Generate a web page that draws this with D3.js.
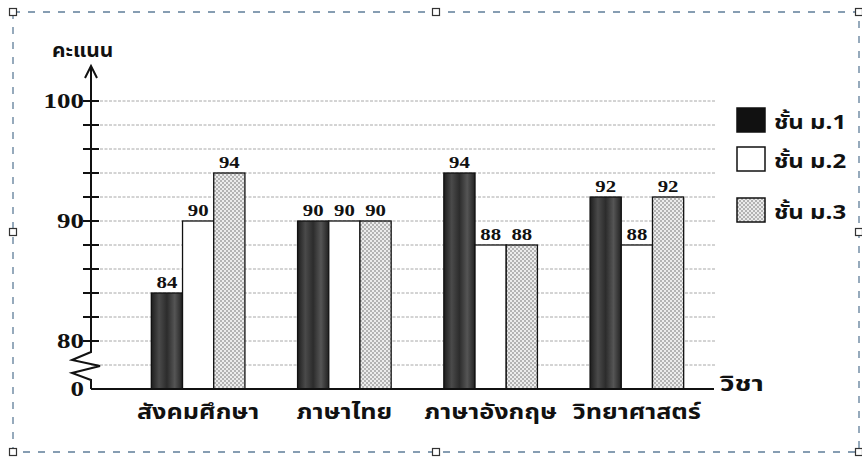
<!DOCTYPE html>
<html><head><meta charset="utf-8">
<script src="https://cdn.jsdelivr.net/npm/d3@7"></script>
<style>html,body{margin:0;padding:0;background:#fff;}svg{display:block;}</style>
</head><body>
<script>
const categories = ["สังคมศึกษา","ภาษาไทย","ภาษาอังกฤษ","วิทยาศาสตร์"];
const seriesNames = ["ชั้น ม.1","ชั้น ม.2","ชั้น ม.3"];
const m1 = [84, 90, 94, 92];
const m2 = [90, 90, 88, 88];
const m3 = [94, 90, 88, 92];
const yTickLabels = [0, 80, 90, 100];
const gridValues = [78,80,82,84,86,88,90,92,94,96,98,100];
const tickMarks = [80,82,84,86,88,90,92,94,96,98,100];
const yTitle = "คะแนน";
const xTitle = "วิชา";

const W = 862, H = 458;
const thai = "'Noto Sans Thai','Loma','Garuda','Norasi','Tlwg Typo','DejaVu Sans',sans-serif";
const serif = "'Liberation Serif','DejaVu Serif',serif";

const svg = d3.select("body").append("svg").attr("width", W).attr("height", H);
const defs = svg.append("defs");
const dp = defs.append("pattern").attr("id","dots").attr("patternUnits","userSpaceOnUse").attr("width",4).attr("height",4);
dp.append("rect").attr("width",4).attr("height",4).attr("fill","#ececec");
dp.append("circle").attr("cx",1).attr("cy",1).attr("r",0.8).attr("fill","#6a6a6a");
dp.append("circle").attr("cx",3).attr("cy",3).attr("r",0.8).attr("fill","#6a6a6a");
const dg = defs.append("linearGradient").attr("id","dark").attr("x1",0).attr("x2",1).attr("y1",0).attr("y2",0);
[[0,"#1e1e1e"],[0.25,"#4a4a4a"],[0.5,"#2c2c2c"],[0.75,"#555"],[1,"#222"]].forEach(s=>dg.append("stop").attr("offset",s[0]).attr("stop-color",s[1]));

svg.append("rect").attr("width",W).attr("height",H).attr("fill","#fff");

const axisX = 91, baseY = 389;
const y = d3.scaleLinear().domain([0, 78, 80, 100]).range([baseY, 365, 341, 101]);
const x0 = d3.scaleBand().domain(categories).range([125, 710]).paddingInner(0.36).paddingOuter(0.18);
const x1 = d3.scaleBand().domain(seriesNames).range([0, x0.bandwidth()]);
const fills = ["url(#dark)", "#fff", "url(#dots)"];
const seriesVals = [m1, m2, m3];

function stretched(sel, sx){ // horizontally stretched text placed via transform
  return sel.attr("transform", d => `translate(${sel.__px(d)},${sel.__py(d)}) scale(${sx},1)`);
}

// grid
svg.append("g").selectAll("line").data(gridValues).join("line")
  .attr("x1", axisX).attr("x2", 715).attr("y1", d=>y(d)).attr("y2", d=>y(d))
  .attr("stroke","#a8a8a8").attr("stroke-width",1).attr("stroke-dasharray","3,1.5");

// bars
const data = [];
categories.forEach((c,i)=>seriesNames.forEach((s,j)=>data.push({c, s, j, v: seriesVals[j][i]})));
svg.append("g").selectAll("rect").data(data).join("rect")
  .attr("x", d=>x0(d.c)+x1(d.s)).attr("width", x1.bandwidth())
  .attr("y", d=>y(d.v)).attr("height", d=>baseY - y(d.v))
  .attr("fill", d=>fills[d.j]).attr("stroke","#111").attr("stroke-width",1.3);

// value labels
svg.append("g").selectAll("text").data(data).join("text")
  .attr("transform", d=>`translate(${x0(d.c)+x1(d.s)+x1.bandwidth()/2},${y(d.v)-5}) scale(1.3,1)`)
  .attr("text-anchor","middle").attr("font-family",serif).attr("font-weight","bold").attr("font-size",16)
  .attr("fill","#111").text(d=>d.v);

// y axis line with break
const path = d3.path();
path.moveTo(axisX, 68); path.lineTo(axisX, 352);
path.lineTo(72, 360); path.lineTo(100, 366); path.lineTo(72, 373); path.lineTo(axisX, 380); path.lineTo(axisX, baseY);
svg.append("path").attr("d", path.toString()).attr("fill","none").attr("stroke","#111").attr("stroke-width",2);
svg.append("path").attr("d", `M${axisX-6},${78} L${axisX},${66} L${axisX+6},${78}`).attr("fill","none").attr("stroke","#111").attr("stroke-width",2);
svg.append("line").attr("x1",axisX).attr("x2",714).attr("y1",baseY).attr("y2",baseY).attr("stroke","#111").attr("stroke-width",2);
svg.append("g").selectAll("line").data(tickMarks).join("line")
  .attr("x1",axisX-8).attr("x2",axisX+8).attr("y1",d=>y(d)).attr("y2",d=>y(d)).attr("stroke","#111").attr("stroke-width",2);
svg.append("g").selectAll("text").data(yTickLabels).join("text")
  .attr("transform", d=>`translate(${axisX-7},${y(d)+7}) scale(1.35,1)`).attr("text-anchor","end")
  .attr("font-family",serif).attr("font-weight","bold").attr("font-size",20).attr("fill","#111").text(d=>d);

// axis titles
svg.append("text").attr("transform","translate(52,57) scale(1.1,1)").attr("font-family",thai).attr("font-weight","bold").attr("font-size",19).attr("fill","#111").text(yTitle);
svg.append("text").attr("transform","translate(720,391) scale(1.35,1)").attr("font-family",thai).attr("font-weight","bold").attr("font-size",21).attr("fill","#111").text(xTitle);

// category labels
svg.append("g").selectAll("text").data(categories).join("text")
  .attr("transform", d=>`translate(${x0(d)+x0.bandwidth()/2},419) scale(1.2,1)`).attr("text-anchor","middle")
  .attr("font-family",thai).attr("font-weight","bold").attr("font-size",21).attr("fill","#111").text(d=>d);

// legend
const leg = svg.append("g").selectAll("g").data(seriesNames).join("g")
  .attr("transform",(d,i)=>`translate(737,${[108,147,198][i]})`);
leg.append("rect").attr("width",28).attr("height",24).attr("fill",(d,i)=>i===0?"#111":fills[i]).attr("stroke","#111").attr("stroke-width",1.5);
leg.append("text").attr("transform","translate(37,21) scale(1.2,1)").attr("font-family",thai).attr("font-weight","bold").attr("font-size",20).attr("fill","#111").text(d=>d);

// selection frame
const fr = {x:13, y:12, w:846, h:440};
svg.append("rect").attr("x",fr.x).attr("y",fr.y).attr("width",fr.w).attr("height",fr.h)
  .attr("fill","none").attr("stroke","#5f7d99").attr("stroke-width",1.3).attr("stroke-dasharray","7,8");
const handles = [[fr.x,fr.y],[fr.x+fr.w/2,fr.y],[fr.x+fr.w,fr.y],[fr.x,fr.y+fr.h/2],[fr.x+fr.w,fr.y+fr.h/2],[fr.x,fr.y+fr.h],[fr.x+fr.w/2,fr.y+fr.h],[fr.x+fr.w,fr.y+fr.h]];
svg.append("g").selectAll("rect").data(handles).join("rect")
  .attr("x",d=>d[0]-3.5).attr("y",d=>d[1]-3.5).attr("width",7).attr("height",7)
  .attr("fill","#fff").attr("stroke","#333").attr("stroke-width",1.2);
</script>
</body></html>
